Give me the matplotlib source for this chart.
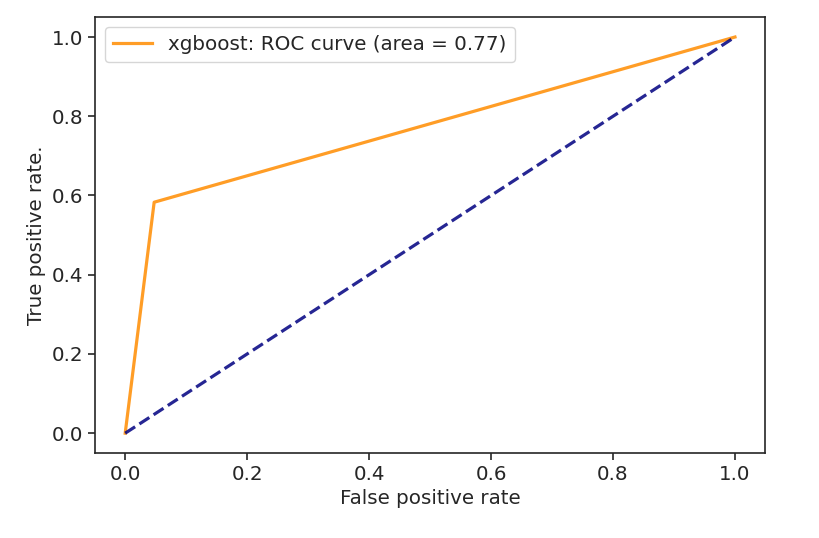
import matplotlib
matplotlib.use("Agg")
import matplotlib.pyplot as plt

fpr = [0.0, 0.0475, 1.0]
tpr = [0.0, 0.583, 1.0]
diag = [0.0, 1.0]
label = "xgboost: ROC curve (area = 0.77)"

txt = "#262626"
plt.rcParams["text.color"] = txt
plt.rcParams["axes.labelcolor"] = txt
plt.rcParams["xtick.color"] = txt
plt.rcParams["ytick.color"] = txt

fig = plt.figure(figsize=(8.2, 5.38), dpi=100)
ax = fig.add_axes([0.1155, 0.158, 0.818, 0.810])
ax.plot(fpr, tpr, color="darkorange", lw=2.3, label=label, alpha=0.85)
ax.plot(diag, diag, color="navy", lw=2.3, linestyle="--", alpha=0.85)
ax.set_xlim(-0.05, 1.05)
ax.set_ylim(-0.05, 1.05)
ax.set_xticks([0.0, 0.2, 0.4, 0.6, 0.8, 1.0])
ax.set_yticks([0.0, 0.2, 0.4, 0.6, 0.8, 1.0])
ax.tick_params(labelsize=14.3, length=5, width=1.2)
ax.set_xlabel("False positive rate", fontsize=14.3)
ax.set_ylabel("True positive rate.", fontsize=14.3)
for s in ax.spines.values():
    s.set_linewidth(1.2)
    s.set_color(txt)
ax.legend(loc="upper left", fontsize=14.3)
fig.savefig("out.png", dpi=100)
